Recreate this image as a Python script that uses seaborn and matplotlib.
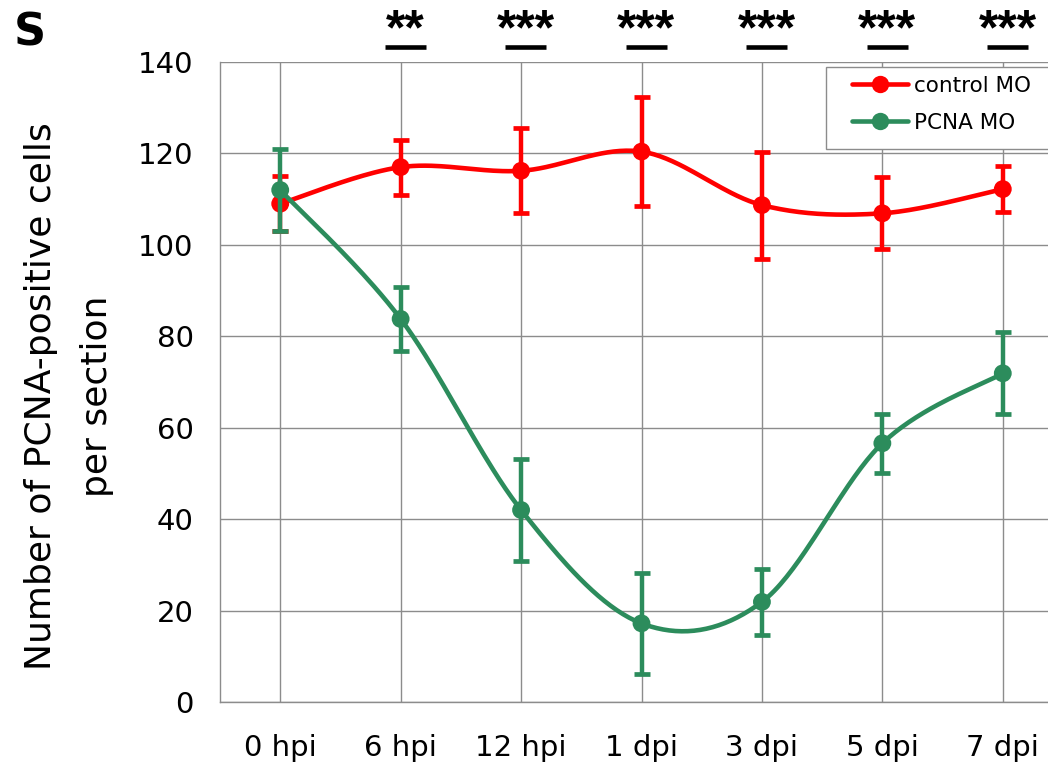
import numpy as np
import matplotlib
matplotlib.use("Agg")
import matplotlib.pyplot as plt
import matplotlib.transforms as mtransforms
from matplotlib.lines import Line2D
from matplotlib.patches import Rectangle
import seaborn as sns

# ---- data ----
categories = ["0 hpi", "6 hpi", "12 hpi", "1 dpi", "3 dpi", "5 dpi", "7 dpi"]
control_mean = [109.0, 117.0, 116.2, 120.4, 108.7, 106.9, 112.2]
control_err = [6.0, 6.0, 9.3, 12.0, 11.7, 7.9, 5.0]
pcna_mean = [112.0, 83.8, 42.0, 17.2, 21.9, 56.6, 71.9]
pcna_err = [9.0, 7.0, 11.2, 11.0, 7.3, 6.5, 9.0]
signif = ["", "**", "***", "***", "***", "***", "***"]
series_labels = ["control MO", "PCNA MO"]

RED = "#FF0000"
GREEN = "#2C8C5C"
GRID = "#8c8c8c"

sns.set_style("white")
plt.rcParams["font.family"] = ["DejaVu Sans"]
plt.rcParams["text.color"] = "black"
plt.rcParams["axes.labelcolor"] = "black"
plt.rcParams["xtick.color"] = "black"
plt.rcParams["ytick.color"] = "black"

W, H = 1048, 772
fig = plt.figure(figsize=(W / 100, H / 100), dpi=100)
ax = fig.add_axes([220 / W, (H - 702) / H, (1063 - 220) / W, (702 - 62) / H])


def smooth(xv, yv, n=40):
    """Excel-like smoothed line (Catmull-Rom style Bezier through the points)."""
    P = np.column_stack([xv, yv]).astype(float)
    out = []
    for i in range(len(P) - 1):
        p0 = P[i - 1] if i > 0 else P[i]
        p1, p2 = P[i], P[i + 1]
        p3 = P[i + 2] if i + 2 < len(P) else P[i + 1]
        b1 = p1 + (p2 - p0) / 6.0
        b2 = p2 - (p3 - p1) / 6.0
        t = np.linspace(0, 1, n)[:, None]
        seg = ((1 - t) ** 3) * p1 + 3 * ((1 - t) ** 2) * t * b1 + 3 * (1 - t) * t ** 2 * b2 + t ** 3 * p2
        out.append(seg if i == 0 else seg[1:])
    out = np.vstack(out)
    return out[:, 0], out[:, 1]


xi = np.arange(len(categories))
for k, (mean, err, col) in enumerate([(control_mean, control_err, RED), (pcna_mean, pcna_err, GREEN)]):
    z = 3 + k * 3
    ax.errorbar(xi, mean, yerr=err, fmt="none", ecolor=col, elinewidth=3.2,
                capsize=6, capthick=3.4, zorder=z)
    sx, sy = smooth(xi, mean)
    sns.lineplot(x=sx, y=sy, ax=ax, color=col, linewidth=3.3, sort=False,
                 estimator=None, zorder=z + 1, legend=False)
    sns.scatterplot(x=xi, y=mean, ax=ax, color=col, s=165, edgecolor="none",
                    zorder=z + 2, legend=False)

ax.set_xlim(-0.5, len(categories) - 0.5)
ax.set_ylim(0, 140)
ax.set_xticks(xi)
ax.set_xticklabels(categories)
ax.set_xticks(np.arange(-0.5, len(categories), 1.0), minor=True)
ax.set_yticks(np.arange(0, 141, 20))
ax.set_yticks(np.arange(10, 140, 20), minor=True)
ax.grid(True, which="major", color=GRID, linewidth=1.0)
ax.set_axisbelow(True)
for s in ["top", "right"]:
    ax.spines[s].set_visible(False)
for s in ["left", "bottom"]:
    ax.spines[s].set_color(GRID)
    ax.spines[s].set_linewidth(1.0)

ax.tick_params(axis="x", which="major", length=0, pad=23, labelsize=21, labelcolor="black")
ax.tick_params(axis="x", which="minor", length=8, width=1.0, color=GRID, direction="out")
ax.tick_params(axis="y", which="major", length=7, width=1.0, color=GRID, direction="out",
               pad=12, labelsize=21, labelcolor="black")
ax.tick_params(axis="y", which="minor", length=10, width=1.0, color=GRID, direction="inout")
ax.set_xlabel("")
ax.set_ylabel("")

# y label (two lines)
fig.text(41 / W, 1 - 396 / H, "Number of PCNA-positive cells", rotation=90,
         ha="center", va="center", fontsize=26, color="black")
fig.text(97 / W, 1 - 396 / H, "per section", rotation=90,
         ha="center", va="center", fontsize=26, color="black")

# panel letter
fig.text(14 / W, 1 - 12 / H, "S", fontsize=32, fontweight="bold", ha="left", va="top",
         color="black")

# significance marks
blend = mtransforms.blended_transform_factory(ax.transData, fig.transFigure)
for i, s in enumerate(signif):
    if not s:
        continue
    ax.text(i + 0.04, 1 - 44 / H, s, transform=blend, ha="center", va="baseline",
            fontsize=36, fontweight="bold", family=["Liberation Sans", "DejaVu Sans"],
            color="black", clip_on=False)
    ax.plot([i - 0.17 + 0.04, i + 0.17 + 0.04], [1 - 47 / H, 1 - 47 / H], transform=blend,
            color="black", linewidth=3.3, solid_capstyle="butt", clip_on=False)

# legend
fig.add_artist(Rectangle((826 / W, 1 - 149 / H), (1080 - 826) / W, (149 - 67) / H,
                         transform=fig.transFigure, facecolor="white",
                         edgecolor=GRID, linewidth=1.0, zorder=4))
handles = [Line2D([], [], color=RED, lw=3.3, marker="o", markersize=12.5, markeredgewidth=0),
           Line2D([], [], color=GREEN, lw=3.3, marker="o", markersize=12.5, markeredgewidth=0)]
leg = fig.legend(handles, series_labels, loc="upper left",
                 bbox_to_anchor=(852 / W, 1 - 76 / H), bbox_transform=fig.transFigure,
                 frameon=False, fontsize=15.5, handlelength=2.6, handletextpad=0.3,
                 labelspacing=0.78, borderpad=0, borderaxespad=0)
for t in leg.get_texts():
    t.set_color("black")
leg.set_zorder(5)

fig.savefig("out.png", dpi=100)
